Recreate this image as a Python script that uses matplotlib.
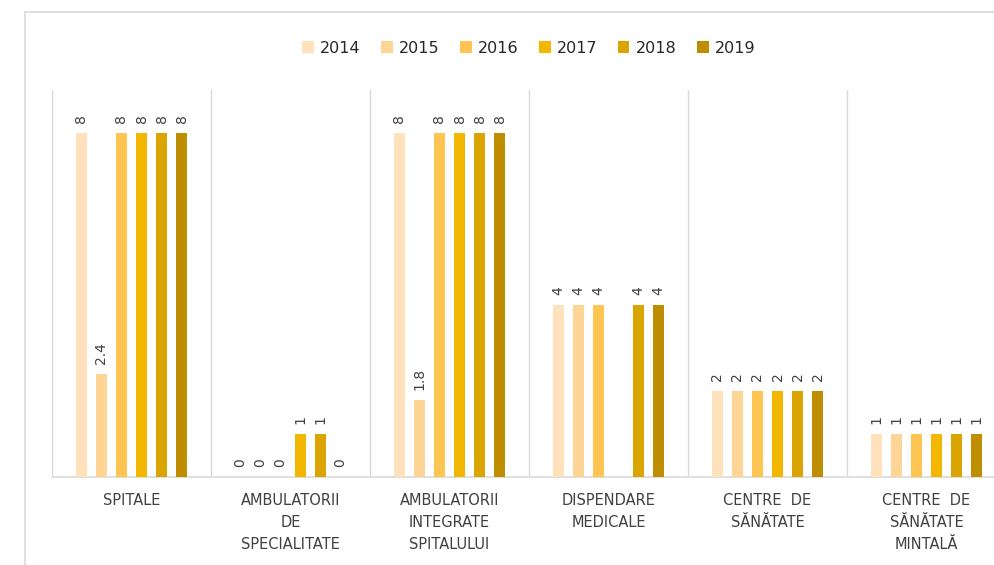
import numpy as np
import matplotlib.pyplot as plt
from matplotlib.patches import Rectangle

# Category labels and yearly values (nan = no bar, no label)
categories = ['SPITALE', 'AMBULATORII\nDE\nSPECIALITATE', 'AMBULATORII\nINTEGRATE\nSPITALULUI',
              'DISPENDARE\nMEDICALE', 'CENTRE  DE\nSĂNĂTATE', 'CENTRE  DE\nSĂNĂTATE\nMINTALĂ']
years = ['2014', '2015', '2016', '2017', '2018', '2019']
v2014 = [8, 0, 8, 4, 2, 1]
v2015 = [2.4, 0, 1.8, 4, 2, 1]
v2016 = [8, 0, 8, 4, 2, 1]
v2017 = [8, 1, 8, np.nan, 2, 1]
v2018 = [8, 1, 8, 4, 2, 1]
v2019 = [8, 0, 8, 4, 2, 1]
series = [v2014, v2015, v2016, v2017, v2018, v2019]
colors = ['#FFE2BC', '#FFD596', '#FFC552', '#F3B700', '#DAA500', '#BE8E00']

fig = plt.figure(figsize=(9.95, 5.65), dpi=100)
ax = fig.add_axes([52 / 995, 1 - 477 / 565, 954 / 995, (477 - 90) / 565])

# outer chart border (partly cropped in the reference)
fig.patches.append(Rectangle((25 / 995, -0.1), 1.1, 1 - 12 / 565 + 0.1,
                             transform=fig.transFigure, fill=False,
                             edgecolor='#d9d9d9', linewidth=1.2))

x = np.arange(len(categories))
pitch = 0.126
width = 0.07
for i, (vals, col, yr) in enumerate(zip(series, colors, years)):
    pos = x + (i - 2.5) * pitch
    ax.bar(pos, vals, width=width, color=col, label=yr, zorder=3)
    for p, v in zip(pos, vals):
        if np.isnan(v):
            continue
        txt = '{:g}'.format(v)
        ax.annotate(txt, (p, v), xytext=(0, 7), textcoords='offset points',
                    rotation=90, ha='center', va='bottom', fontsize=10,
                    color='#404040')

ax.set_xlim(-0.5, len(categories) - 0.5)
ax.set_ylim(0, 9)
for b in np.arange(-0.5, len(categories), 1.0):
    ax.axvline(b, color='#d9d9d9', linewidth=1, zorder=1)

for s in ['top', 'right', 'left']:
    ax.spines[s].set_visible(False)
ax.spines['bottom'].set_color('#d9d9d9')
ax.spines['bottom'].set_linewidth(1.2)
ax.set_yticks([])
ax.set_xticks([])
for xi, lab in zip(x, categories):
    ax.text(xi, -0.38, lab, ha='center', va='top', fontsize=10.5,
            color='#404040', linespacing=1.55)

leg = ax.legend(loc='upper center', bbox_to_anchor=(0.5, 1.165), ncol=6, frameon=False,
                fontsize=11.5, handlelength=0.7, handleheight=0.7, handletextpad=0.4,
                columnspacing=1.3)
for t in leg.get_texts():
    t.set_color('#262626')

fig.savefig('out.png', dpi=100)
